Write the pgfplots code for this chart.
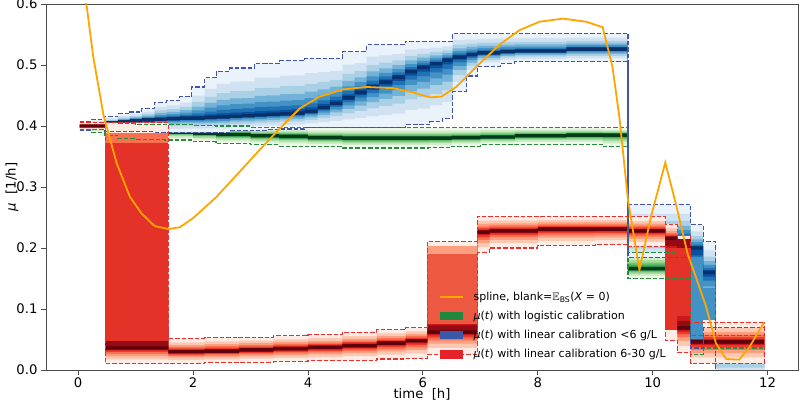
\documentclass[border=0pt]{standalone}
\usepackage{fontspec}
\setmainfont{DejaVu Sans}
\usepackage{amssymb}
\usepackage{pgfplots}
\usepackage{pgfplotstable}
\pgfplotsset{compat=1.18}
\usepgfplotslibrary{fillbetween}

% Reds
\definecolor{rc1}{RGB}{255,236,228}\definecolor{rc2}{RGB}{252,200,178}
\definecolor{rc3}{RGB}{252,158,128}\definecolor{rc4}{RGB}{251,112,80}
\definecolor{rc5}{RGB}{239,59,44}\definecolor{rc6}{RGB}{203,24,29}
\definecolor{rc7}{RGB}{150,10,20}\definecolor{rc8}{RGB}{95,0,12}
% Blues
\definecolor{bc1}{RGB}{234,243,251}\definecolor{bc2}{RGB}{208,226,242}
\definecolor{bc3}{RGB}{170,208,229}\definecolor{bc4}{RGB}{115,178,216}
\definecolor{bc5}{RGB}{66,146,198}\definecolor{bc6}{RGB}{33,113,181}
\definecolor{bc7}{RGB}{8,81,156}\definecolor{bc8}{RGB}{8,48,107}
% Greens
\definecolor{gc1}{RGB}{238,248,234}\definecolor{gc2}{RGB}{205,236,199}
\definecolor{gc3}{RGB}{165,219,158}\definecolor{gc4}{RGB}{116,196,118}
\definecolor{gc5}{RGB}{65,171,93}\definecolor{gc6}{RGB}{35,139,69}
\definecolor{gc7}{RGB}{0,109,44}\definecolor{gc8}{RGB}{0,60,24}

\definecolor{redD}{RGB}{235,45,45}
\definecolor{blueD}{RGB}{65,85,175}
\definecolor{greenD}{RGB}{40,140,60}
\definecolor{orangeC}{RGB}{255,165,0}
\definecolor{solidR}{RGB}{229,50,40}
\definecolor{solidR2}{RGB}{236,88,64}
\definecolor{legG}{RGB}{32,135,62}
\definecolor{legB}{RGB}{58,88,172}
\definecolor{legR}{RGB}{230,35,40}

\pgfplotsset{
  mypatch/.style={legend image code/.code={\fill[##1] (0pt,-4.2pt) rectangle (23pt,4.2pt);}},
  myline/.style={legend image code/.code={\draw[##1] (0pt,0pt) -- (23pt,0pt);}},
  bnd/.style={const plot, forget plot, line width=1.1pt, dash pattern=on 4.5pt off 2pt},
}

\newcommand{\lay}[4]{%
  \addplot[const plot, draw=none, forget plot, name path=U#2] table[x=t, y expr={\thisrow{med}+#3*(\thisrow{hi}-\thisrow{med})}] {#1};
  \addplot[const plot, draw=none, forget plot, name path=L#2] table[x=t, y expr={\thisrow{med}-#3*(\thisrow{med}-\thisrow{lo})}] {#1};
  \addplot[fill=#4, draw=none, forget plot] fill between[of=U#2 and L#2];
}
\newcommand{\core}[3]{%
  \addplot[const plot, draw=none, forget plot, name path=U#2] table[x=t, y expr={\thisrow{med}+0.0028}] {#1};
  \addplot[const plot, draw=none, forget plot, name path=L#2] table[x=t, y expr={\thisrow{med}-0.0028}] {#1};
  \addplot[fill=#3, draw=none, forget plot] fill between[of=U#2 and L#2];
}
\newcommand{\family}[2]{%
  \lay{#1}{#2a}{1.0}{#2c1}
  \lay{#1}{#2b}{0.72}{#2c2}
  \lay{#1}{#2c}{0.52}{#2c3}
  \lay{#1}{#2d}{0.37}{#2c4}
  \lay{#1}{#2e}{0.25}{#2c5}
  \lay{#1}{#2f}{0.15}{#2c6}
  \lay{#1}{#2g}{0.075}{#2c7}
  \core{#1}{#2h}{#2c8}
}

\pgfplotstableread{
t lo med hi
0.03 0.393 0.400 0.408
0.24 0.394 0.401 0.411
0.46 0.391 0.405 0.415
0.69 0.391 0.407 0.420
0.90 0.391 0.409 0.423
1.11 0.391 0.410 0.429
1.33 0.390 0.411 0.439
1.54 0.389 0.412 0.442
1.77 0.389 0.413 0.448
1.98 0.389 0.413 0.464
2.20 0.389 0.414 0.479
2.41 0.389 0.415 0.490
2.64 0.392 0.416 0.495
2.85 0.392 0.417 0.495
3.07 0.393 0.418 0.503
3.28 0.394 0.419 0.503
3.51 0.395 0.420 0.507
3.72 0.395 0.421 0.507
3.94 0.397 0.424 0.511
4.17 0.397 0.430 0.511
4.38 0.397 0.437 0.511
4.60 0.397 0.446 0.522
4.81 0.397 0.455 0.522
5.02 0.397 0.464 0.533
5.24 0.397 0.472 0.533
5.47 0.397 0.480 0.533
5.69 0.402 0.489 0.539
5.90 0.402 0.496 0.539
6.12 0.407 0.502 0.539
6.34 0.413 0.508 0.539
6.52 0.456 0.513 0.552
6.76 0.482 0.517 0.552
6.95 0.498 0.520 0.552
7.35 0.503 0.522 0.552
7.60 0.505 0.523 0.552
8.50 0.505 0.526 0.552
9.57 0.185 0.215 0.272
10.66 0.036 0.200 0.238
10.88 0.069 0.160 0.210
11.10 -0.020 0.030 0.069
11.95 -0.020 0.030 0.069
}\bluetab

\pgfplotstableread{
t lo med hi
0.03 0.392 0.400 0.405
0.24 0.389 0.399 0.405
0.46 0.385 0.397 0.405
0.69 0.379 0.395 0.404
1.00 0.378 0.393 0.403
1.50 0.377 0.390 0.402
2.00 0.374 0.388 0.401
2.40 0.371 0.386 0.400
3.00 0.369 0.384 0.398
3.50 0.367 0.383 0.398
4.00 0.366 0.381 0.397
4.60 0.364 0.380 0.397
6.10 0.365 0.380 0.397
6.50 0.367 0.381 0.397
7.00 0.369 0.382 0.398
7.60 0.370 0.384 0.398
8.50 0.370 0.385 0.398
9.13 0.366 0.385 0.397
9.57 0.150 0.166 0.193
10.43 0.150 0.160 0.171
10.66 0.025 0.045 0.057
10.88 0.036 0.045 0.057
11.95 0.036 0.045 0.057
}\greentab

\pgfplotstableread{
t lo med hi
0.03 0.394 0.400 0.406
0.47 0.010 0.036 0.405
1.57 0.011 0.030 0.051
2.20 0.012 0.031 0.053
2.80 0.013 0.033 0.054
3.40 0.014 0.035 0.056
4.00 0.015 0.037 0.058
4.60 0.016 0.040 0.062
5.20 0.018 0.044 0.066
5.70 0.019 0.048 0.069
6.08 0.026 0.062 0.211
6.95 0.192 0.226 0.252
7.16 0.200 0.228 0.252
8.00 0.204 0.231 0.252
9.00 0.206 0.231 0.252
9.57 0.203 0.228 0.251
10.22 0.049 0.216 0.239
10.43 0.028 0.069 0.220
10.66 0.011 0.046 0.078
11.95 0.011 0.046 0.078
}\redtab

\begin{document}
\begin{tikzpicture}
\begin{axis}[
  set layers,
  scale only axis, width=752pt, height=366pt,
  xmin=-0.56, xmax=12.53, ymin=0, ymax=0.6,
  xtick={0,2,4,6,8,10,12}, ytick={0,0.1,0.2,0.3,0.4,0.5,0.6},
  yticklabel style={/pgf/number format/.cd, fixed, fixed zerofill, precision=1},
  /pgf/number format/assume math mode=true,
  tick label style={font=\fontsize{13.2}{15}\selectfont},
  xticklabel style={yshift=1pt},
  xlabel={time\ \ [h]}, ylabel={\textit{μ}\ \ [1/h]},
  every axis x label/.style={at={([yshift=-24.5pt]axis description cs:0.5,0)}, anchor=center, font=\fontsize{13.2}{15}\selectfont},
  every axis y label/.style={at={([xshift=-34pt]axis description cs:0,0.5)}, anchor=center, rotate=90, font=\fontsize{13.2}{15}\selectfont},
  axis line style={black!70, line width=0.8pt},
  tick style={black!70, line width=0.8pt},
  major tick length=5pt, tick align=outside, tick pos=left,
  legend style={draw=none, fill=none, at={(0.522,0.219)}, anchor=north west,
    font=\fontsize{11}{13}\selectfont, nodes={font=\fontsize{11}{13}\selectfont},
    row sep=5.3pt, inner sep=0pt,
    /tikz/every odd column/.append style={column sep=8pt}},
  legend cell align=left,
]
% green
\family{\greentab}{g}
% blue
\family{\bluetab}{b}
\addplot[fill=bc5, draw=none, forget plot] coordinates {(10.66,0.05) (10.88,0.05) (10.88,0.186) (10.66,0.186)};
\addplot[fill=bc5, draw=none, forget plot] coordinates {(10.88,0.082) (11.10,0.082) (11.10,0.135) (10.88,0.135)};
% red
\family{\redtab}{r}
\addplot[fill=solidR, draw=none, forget plot] coordinates {(0.47,0.047) (1.57,0.047) (1.57,0.372) (0.47,0.372)};
\addplot[fill=rc4, draw=none, forget plot] coordinates {(0.47,0.372) (1.57,0.372) (1.57,0.388) (0.47,0.388)};
\addplot[fill=rc7, draw=none, forget plot] coordinates {(0.47,0.040) (1.57,0.040) (1.57,0.047) (0.47,0.047)};
\addplot[fill=solidR2, draw=none, forget plot] coordinates {(6.08,0.075) (6.95,0.075) (6.95,0.190) (6.08,0.190)};
\addplot[fill=rc3, draw=none, forget plot] coordinates {(6.08,0.190) (6.95,0.190) (6.95,0.203) (6.08,0.203)};
\addplot[fill=solidR, draw=none, forget plot] coordinates {(10.22,0.065) (10.43,0.065) (10.43,0.200) (10.22,0.200)};
\addplot[fill=solidR, draw=none, forget plot] coordinates {(10.43,0.088) (10.66,0.088) (10.66,0.200) (10.43,0.200)};
\addplot[fill=rc7, draw=none, forget plot] coordinates {(10.43,0.200) (10.66,0.200) (10.66,0.214) (10.43,0.214)};
% dashed bounds
\addplot[bnd, greenD] table[x=t, y=lo] {\greentab};
\addplot[bnd, greenD] table[x=t, y=hi] {\greentab};
\addplot[bnd, blueD] table[x=t, y=lo] {\bluetab};
\addplot[bnd, blueD] table[x=t, y=hi] {\bluetab};
\addplot[bnd, redD] table[x=t, y=lo] {\redtab};
\addplot[bnd, redD] table[x=t, y=hi] {\redtab};
\addplot[bnd, redD] coordinates {(11.95,0.011) (11.95,0.078)};
% spline
\addplot[color=orangeC, line width=1.8pt, forget plot] coordinates {
(0.05,0.665) (0.134,0.607) (0.26,0.515) (0.44,0.418) (0.67,0.339) (0.9,0.284)
(1.1,0.257) (1.33,0.236) (1.57,0.231) (1.77,0.234) (2.0,0.249) (2.4,0.283)
(2.84,0.328) (3.16,0.361) (3.5,0.395) (3.86,0.429) (4.2,0.448) (4.61,0.46)
(5.02,0.464) (5.48,0.462) (5.83,0.455) (6.12,0.447) (6.32,0.448) (6.58,0.464)
(6.93,0.497) (7.33,0.533) (7.68,0.557) (8.03,0.571) (8.44,0.576) (8.84,0.571)
(9.13,0.562) (9.30,0.497) (9.42,0.415) (9.48,0.361) (9.57,0.279) (9.77,0.164)
(9.97,0.251) (10.22,0.34) (10.41,0.27) (10.61,0.19) (10.75,0.153) (10.93,0.104)
(11.1,0.044) (11.28,0.018) (11.51,0.017) (11.68,0.037) (11.94,0.078)};
% legend
\addlegendimage{myline, color=orangeC, line width=1.8pt}
\addlegendentry{spline, blank=$\mathbb{E}$\textsubscript{BS}(\textit{X} = 0)}
\addlegendimage{mypatch, fill=legG, draw=none}
\addlegendentry{\textit{μ}(\textit{t}) with logistic calibration}
\addlegendimage{mypatch, fill=legB, draw=none}
\addlegendentry{\textit{μ}(\textit{t}) with linear calibration <6 g/L}
\addlegendimage{mypatch, fill=legR, draw=none}
\addlegendentry{\textit{μ}(\textit{t}) with linear calibration 6-30 g/L}
\end{axis}
\pgfresetboundingbox
\path ([xshift=-46pt,yshift=-34pt]current axis.south west) rectangle ([xshift=2pt,yshift=4pt]current axis.north east);
\end{tikzpicture}
\end{document}
